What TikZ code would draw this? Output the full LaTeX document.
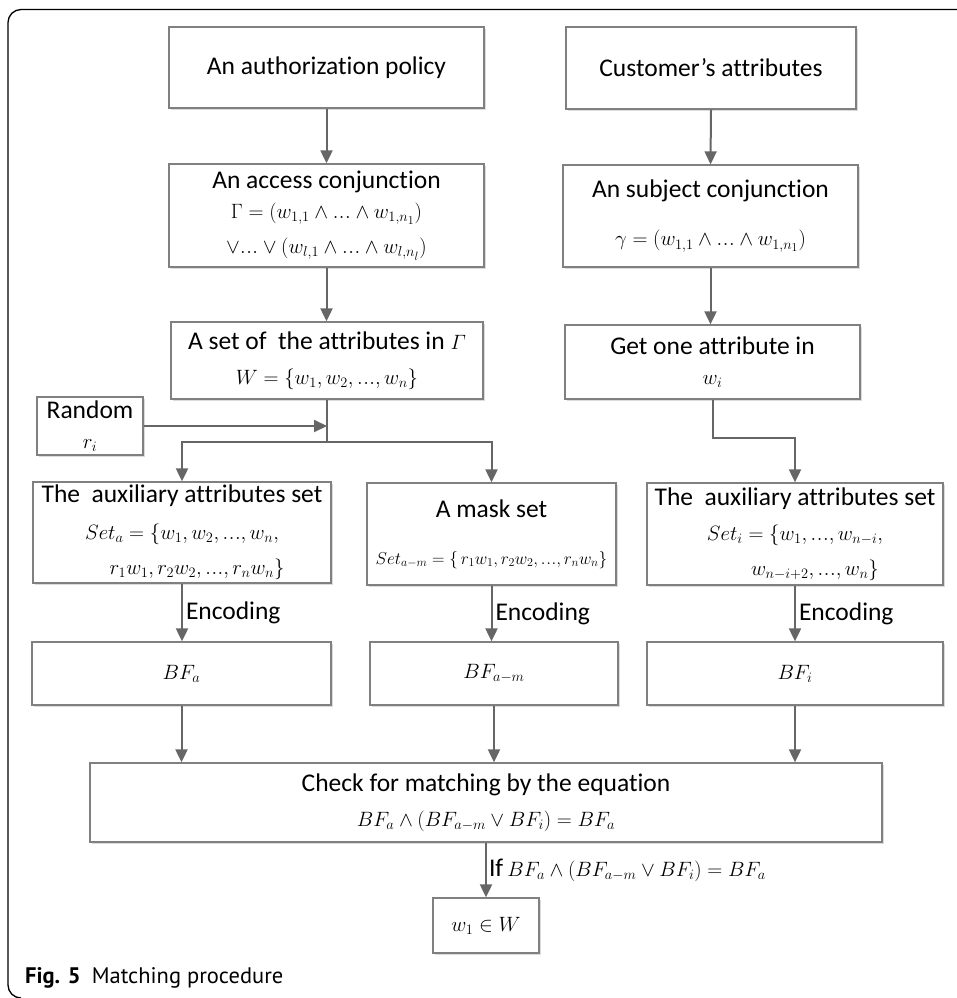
\documentclass[tikz,border=0pt]{standalone}
\usepackage{fontspec}
\setmainfont{Carlito}[Ligatures={NoCommon}]
\newfontfamily\capfont{PT Sans}
\usetikzlibrary{arrows.meta,shadows,calc}
\definecolor{boxgray}{HTML}{808080}
\definecolor{arrgray}{HTML}{666666}
\newcommand\mth[1]{{\fontsize{20.74}{24}\selectfont$#1$}}
\newcommand\mths[1]{{\fontsize{17.28}{21}\selectfont$#1$}}
\newcommand\dts{.\kern0.6pt.\kern0.6pt.}
\begin{document}
\begin{tikzpicture}[x=1pt,y=-1pt,
  flowbox/.style={draw=boxgray, line width=1.3pt, fill=white, align=center, inner sep=0pt,
    font=\fontsize{25.5}{33}\selectfont,
    drop shadow={shadow xshift=2pt,shadow yshift=-2pt,fill=black!14,opacity=1}},
  arr/.style={draw=arrgray, line width=2pt, -{Triangle[width=12pt,length=13pt]}},
  ln/.style={draw=arrgray, line width=2pt},
  lbl/.style={font=\fontsize{25.5}{30}\selectfont, inner sep=3pt, text=black}
]
\useasboundingbox (0,0) rectangle (957,998);
% frame
\draw[black, line width=1.3pt] (957,9.5) -- (21,9.5) arc[start angle=270, end angle=180, radius=13] -- (8,985) arc[start angle=180, end angle=90, radius=13];

% left column
\node[flowbox, minimum width=315pt, minimum height=81pt] (pol) at (326.5,67.5) {An authorization policy};
\node[flowbox, minimum width=315pt, minimum height=103pt] (acc) at (326.5,215.5)
  {An access conjunction\\[-3pt]\mth{\Gamma=(w_{1,1}\wedge\dts\wedge w_{1,n_1})}\\[2pt]\mth{\vee\dts\vee(w_{l,1}\wedge\dts\wedge w_{l,n_l})}};
\node[flowbox, minimum width=312pt, minimum height=77pt] (setW) at (327,360.5)
  {A set of\ \ the attributes in \mth{\mathnormal{\Gamma}}\\[2pt]\mth{W=\{w_1,w_2,\dts,w_n\}}};

% right column
\node[flowbox, minimum width=290pt, minimum height=82pt] (cust) at (711,68) {Customer’s attributes};
\node[flowbox, minimum width=295pt, minimum height=102pt] (subj) at (710.5,216)
  {An subject conjunction\\[15pt]\mth{\gamma=(w_{1,1}\wedge\dts\wedge w_{1,n_1})}};
\node[flowbox, minimum width=295pt, minimum height=74pt] (get) at (712.5,362)
  {Get one attribute in\\[-3pt]\mth{w_i}};

% random
\node[flowbox, minimum width=106pt, minimum height=58pt] (rand) at (90,426) {Random\\[-3pt]\mth{r_i}};

% sets
\node[flowbox, minimum width=298pt, minimum height=101pt] (auxa) at (182,532.5)
  {The\ \ auxiliary attributes set\\[4pt]\mth{Set_a=\{w_1,w_2,\dts,w_n,}\\[2pt]\hspace*{30pt}\mth{r_1w_1,r_2w_2,\dts,r_nw_n\}}};
\node[flowbox, minimum width=249pt, minimum height=102pt] (mask) at (491.5,534)
  {A mask set\\[14pt]\mths{Set_{a-m}=\{\,r_1w_1,r_2w_2,\dts,r_nw_n\}}};
\node[flowbox, minimum width=296pt, minimum height=102pt] (auxi) at (795,534)
  {The\ \ auxiliary attributes set\\[2pt]\mth{Set_i=\{w_1,\dts,w_{n-i},}\\[2pt]\hspace*{40pt}\mth{w_{n-i+2},\dts,w_n\}}};

% bloom filters
\node[flowbox, minimum width=299pt, minimum height=63pt] (bfa) at (181.5,673.5) {\mth{BF_a}};
\node[flowbox, minimum width=248pt, minimum height=63pt] (bfm) at (494,673.5) {\mth{BF_{a-m}}};
\node[flowbox, minimum width=296pt, minimum height=63pt] (bfi) at (795,673.5) {\mth{BF_i}};

% check
\node[flowbox, minimum width=792pt, minimum height=79pt] (check) at (486,802.5)
  {Check for matching by the equation\\[2pt]\mth{BF_a\wedge(BF_{a-m}\vee BF_i)=BF_a}};
\node[flowbox, minimum width=106pt, minimum height=55pt] (res) at (486,925.5) {\mth{w_1\in W}};

% connectors
\draw[arr] (pol.south) -- (acc.north);
\draw[arr] (acc.south) -- (acc.south |- setW.north);
\draw[arr] (cust.south) -- (subj.north);
\draw[arr] (subj.south) -- (subj.south |- get.north);

\path (setW.south) ++(0,42.5) coordinate (j);
\draw[ln] (setW.south) -- (j);
\draw[arr] (rand.east) -- (rand.east -| j);
\draw[arr] (j) -| (auxa.north);
\draw[arr] (j) -| (mask.north);
\draw[arr] (get.south) -- ++(0,38) -| (auxi.north);

\draw[arr] (auxa.south) -- (auxa.south |- bfa.north) node[lbl, midway, right] {Encoding};
\draw[arr] (mask.south) -- (mask.south |- bfm.north) node[lbl, midway, right] {Encoding};
\draw[arr] (auxi.south) -- (auxi.south |- bfi.north) node[lbl, midway, right] {Encoding};

\draw[arr] (bfa.south) -- (bfa.south |- check.north);
\draw[arr] (bfm.south) -- (bfm.south |- check.north);
\draw[arr] (bfi.south) -- (bfi.south |- check.north);

\draw[arr] (check.south) -- (res.north) node[lbl, midway, right, inner sep=2pt] {If\,\mth{BF_a\wedge(BF_{a-m}\vee BF_i)=BF_a}};

% caption
\node[anchor=west, inner sep=0pt, font=\capfont\fontsize{22.5}{26}\selectfont] (cap) at (25,978)
  {\textbf{Fig. 5}\enspace Matching procedure};
\end{tikzpicture}
\end{document}
